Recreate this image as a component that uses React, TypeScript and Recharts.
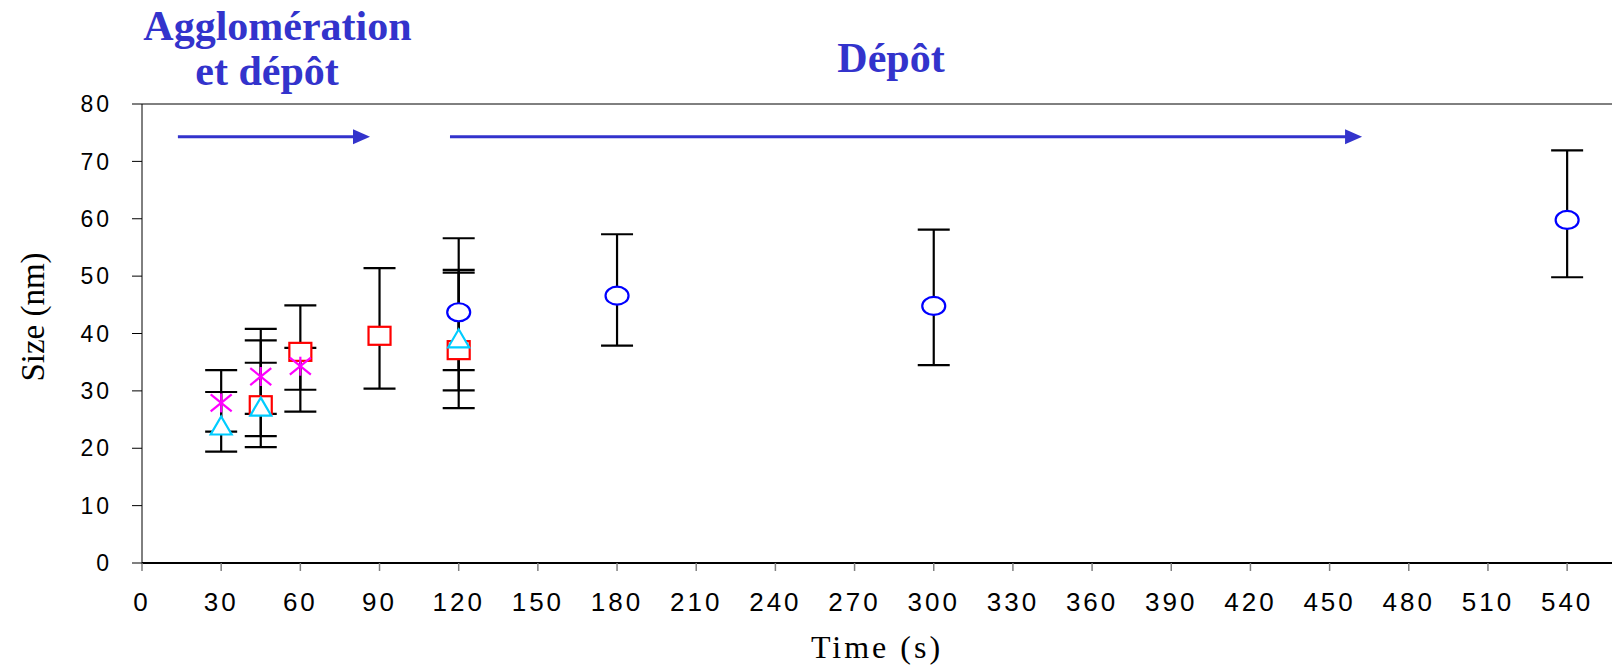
import {
  ScatterChart,
  Scatter,
  XAxis,
  YAxis,
  ErrorBar,
  ReferenceLine,
} from "recharts";

// time (s), size (nm), error bar below / above
const triTime = [30, 45, 120];
const triSize = [23.7, 27.0, 38.9];
const triErrMinus = [4.3, 1.0, 11.9];
const triErrPlus = [6.1, 7.9, 12.2];

const starTime = [30, 45, 60];
const starSize = [27.9, 32.5, 34.3];
const starErrMinus = [5.0, 10.4, 7.9];
const starErrPlus = [5.7, 8.3, 3.2];

const squareTime = [45, 60, 90, 120];
const squareSize = [27.5, 36.8, 39.6, 37.1];
const squareErrMinus = [7.3, 6.6, 9.2, 3.5];
const squareErrPlus = [11.3, 8.1, 11.8, 13.5];

const circleTime = [120, 180, 300, 540];
const circleSize = [43.7, 46.6, 44.8, 59.8];
const circleErrMinus = [13.6, 8.7, 10.3, 10.0];
const circleErrPlus = [12.9, 10.7, 13.3, 12.1];

const xTicks = [0, 30, 60, 90, 120, 150, 180, 210, 240, 270, 300, 330, 360, 390, 420, 450, 480, 510, 540];
const yTicks = [0, 10, 20, 30, 40, 50, 60, 70, 80];

// phase arrows: [from time, to time, size level]
const arrows = [
  [13.6, 86.4, 74.3],
  [116.7, 462.3, 74.3],
];

const colors = {
  title: "#3333CC",
  circle: "#0000FF",
  square: "#FF0000",
  tri: "#00CCFF",
  star: "#FF00FF",
};

const sans = "'Liberation Sans', Arial, sans-serif";
const serif = "'Liberation Serif', 'Times New Roman', serif";

function toPoints(t: number[], s: number[], lo: number[], hi: number[]) {
  return t.map((x, i) => ({ x, y: s[i], err: [lo[i], hi[i]] }));
}

const triData = toPoints(triTime, triSize, triErrMinus, triErrPlus);
const starData = toPoints(starTime, starSize, starErrMinus, starErrPlus);
const squareData = toPoints(squareTime, squareSize, squareErrMinus, squareErrPlus);
const circleData = toPoints(circleTime, circleSize, circleErrMinus, circleErrPlus);

const CircleMark = (p: any) => (
  <ellipse cx={p.cx} cy={p.cy} rx={11.5} ry={9} fill="#fff" stroke={colors.circle} strokeWidth={2.2} />
);
const SquareMark = (p: any) => (
  <rect x={p.cx - 11} y={p.cy - 9} width={22} height={18} fill="#fff" stroke={colors.square} strokeWidth={2.2} />
);
const TriMark = (p: any) => (
  <polygon
    points={`${p.cx},${p.cy - 10.5} ${p.cx + 10.5},${p.cy + 7.5} ${p.cx - 10.5},${p.cy + 7.5}`}
    fill="#fff"
    stroke={colors.tri}
    strokeWidth={2.2}
  />
);
const StarMark = (p: any) => (
  <g stroke={colors.star} strokeWidth={2.2}>
    <line x1={p.cx - 10.5} y1={p.cy - 8.5} x2={p.cx + 10.5} y2={p.cy + 8.5} />
    <line x1={p.cx - 10.5} y1={p.cy + 8.5} x2={p.cx + 10.5} y2={p.cy - 8.5} />
    <line x1={p.cx} y1={p.cy - 9.5} x2={p.cx} y2={p.cy + 9.5} />
  </g>
);

const Arrow = (p: any) => (
  <g>
    <line x1={p.x1} y1={p.y1} x2={p.x2 - 16} y2={p.y2} stroke={colors.title} strokeWidth={3} />
    <polygon points={`${p.x2},${p.y2} ${p.x2 - 17},${p.y2 - 7.5} ${p.x2 - 17},${p.y2 + 7.5}`} fill={colors.title} />
  </g>
);

const errProps = {
  dataKey: "err",
  direction: "y" as const,
  width: 16,
  stroke: "#000",
  strokeWidth: 2.2,
  isAnimationActive: false,
};

export default function App() {
  return (
    <div
      style={{
        position: "absolute",
        left: 0,
        top: 0,
        width: 1612,
        height: 666,
        overflow: "hidden",
        background: "#fff",
      }}
    >
      <ScatterChart width={1612} height={666} margin={{ top: 104, right: 0, bottom: 43, left: 0 }}>
        <XAxis
          type="number"
          dataKey="x"
          domain={[0, 557]}
          ticks={xTicks}
          interval={0}
          height={60}
          tickSize={8}
          tickMargin={22}
          axisLine={{ stroke: "#000", strokeWidth: 2 }}
          tickLine={{ stroke: "#808080", strokeWidth: 1.5 }}
          tick={{ fill: "#000", fontSize: 26, fontFamily: sans, letterSpacing: 3 }}
          label={{
            value: "Time (s)",
            position: "bottom",
            offset: 12,
            style: { fontFamily: serif, fontSize: 32, letterSpacing: 3, fill: "#000" },
          }}
        />
        <YAxis
          type="number"
          dataKey="y"
          domain={[0, 80]}
          ticks={yTicks}
          width={142}
          tickSize={10}
          tickMargin={20}
          axisLine={{ stroke: "#000", strokeWidth: 1 }}
          tickLine={{ stroke: "#000", strokeWidth: 1 }}
          tick={{ fill: "#000", fontSize: 23, fontFamily: sans, letterSpacing: 3 }}
          label={{
            content: () => (
              <text
                x={33}
                y={317}
                transform="rotate(-90 33 317)"
                textAnchor="middle"
                dominantBaseline="central"
                style={{ fontFamily: serif, fontSize: 33, fill: "#000" }}
              >
                Size (nm)
              </text>
            ),
          }}
        />
        <ReferenceLine y={80} stroke="#000" strokeWidth={1} />
        {arrows.map(([a, b, lvl], i) => (
          <ReferenceLine
            key={i}
            segment={[
              { x: a, y: lvl },
              { x: b, y: lvl },
            ]}
            shape={Arrow}
          />
        ))}
        <Scatter data={squareData} shape={SquareMark} isAnimationActive={false}>
          <ErrorBar {...errProps} />
        </Scatter>
        <Scatter data={triData} shape={TriMark} isAnimationActive={false}>
          <ErrorBar {...errProps} />
        </Scatter>
        <Scatter data={starData} shape={StarMark} isAnimationActive={false}>
          <ErrorBar {...errProps} />
        </Scatter>
        <Scatter data={circleData} shape={CircleMark} isAnimationActive={false}>
          <ErrorBar {...errProps} />
        </Scatter>
      </ScatterChart>
      <svg
        width={1612}
        height={104}
        style={{ position: "absolute", left: 0, top: 0, pointerEvents: "none" }}
      >
        <g style={{ fontFamily: serif, fontSize: 42, fontWeight: "bold", fill: colors.title }}>
          <text x={277.5} y={40} textAnchor="middle">
            Agglomération
          </text>
          <text x={267} y={85} textAnchor="middle">
            et dépôt
          </text>
          <text x={891} y={72} textAnchor="middle">
            Dépôt
          </text>
        </g>
      </svg>
    </div>
  );
}
